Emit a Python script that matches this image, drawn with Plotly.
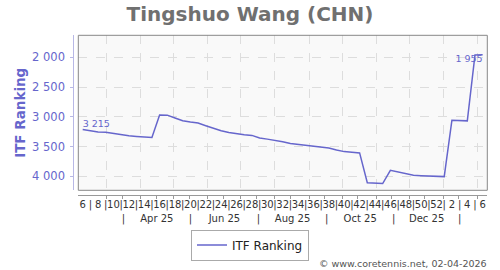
import plotly.graph_objects as go
import pandas as pd

# ---- data ----
week_numbers = list(range(6, 53)) + list(range(1, 7))  # ISO weeks 2025-W06 .. 2026-W06
ranking = [3215, 3240, 3256, 3260, 3283, 3305, 3320, 3330, 3337, 3346,
           2968, 2972, 3020, 3066, 3088, 3105, 3150, 3195, 3235, 3263,
           3285, 3300, 3312, 3355, 3375, 3393, 3420, 3447, 3462, 3478,
           3495, 3510, 3525, 3558, 3585, 3595, 3607, 4108, 4118, 4122,
           3900, 3925, 3945, 3982, 3989, 3995, 4000, 4005, 3058, 3062,
           3068, 1960, 1955]
month_labels = ["Apr 25", "Jun 25", "Aug 25", "Oct 25", "Dec 25"]
month_starts = pd.date_range("2025-03-01", "2026-02-01", freq="MS")
band_edges = pd.to_datetime(["2025-03-16", "2025-05-16", "2025-07-17",
                             "2025-09-17", "2025-11-17", "2026-01-16"])
y_ticks = [2000, 2500, 3000, 3500, 4000]
series_name = "ITF Ranking"
title_text = "Tingshuo Wang (CHN)"
credit_text = "© www.coretennis.net, 02-04-2026"

# ---- derived ----
idx = list(range(len(ranking)))
base = pd.Timestamp("2025-02-07")
to_idx = lambda d: (d - base).days / 7.0
grid_pos = [to_idx(d) for d in month_starts]
mid_pos = [to_idx(d + pd.Timedelta(days=14)) for d in month_starts]
edge_pos = [to_idx(d) for d in band_edges]
label_pos = [(edge_pos[k] + edge_pos[k + 1]) / 2 for k in range(len(month_labels))]

week_vals = idx
week_text = [str(w) if k % 2 == 0 else "|" for k, w in enumerate(week_numbers)]

m_pairs = sorted([(p, "|") for p in edge_pos] + list(zip(label_pos, month_labels)))
m_vals = [p for p, _ in m_pairs]
m_text = [t for _, t in m_pairs]

fmt = lambda v: f"{v:,}".replace(",", " ")
texts = [""] * len(ranking)
texts[0] = fmt(ranking[0])
texts[-1] = fmt(ranking[-1])
tpos = ["top center"] * len(ranking)
tpos[0] = "top right"
tpos[-1] = "bottom left"

W, H = 500, 270
ML, MR, MT, MB = 50, 12, 35, 35
PW = W - ML - MR
PH = H - MT - MB
px_x = lambda x: (x - ML) / PW
px_y = lambda y: (H - MB - y) / PH

XR = [-0.57, 52.6]
LINE = "#6666cc"
FONT = "DejaVu Sans"

fig = go.Figure()
fig.add_trace(go.Scatter(
    x=idx, y=ranking, mode="lines+text", name=series_name,
    line=dict(color=LINE, width=1.5),
    text=texts, textposition=tpos,
    textfont=dict(color=LINE, size=9.5, family=FONT),
    cliponaxis=False, hoverinfo="skip",
    xaxis="x", yaxis="y",
))
# dummy traces to activate the extra axes
for ax in ["x2", "x3", "x4"]:
    fig.add_trace(go.Scatter(x=[None], y=[None], xaxis=ax, yaxis="y",
                             showlegend=False, hoverinfo="skip"))

dom = [px_x(78.3), px_x(487.3)]
fig.update_layout(
    width=W, height=H,
    margin=dict(l=ML, r=MR, t=MT, b=MB, autoexpand=False),
    paper_bgcolor="white", plot_bgcolor="#f9f9f9",
    separators=". ",
    font=dict(family=FONT, color="#333333"),
    title=dict(text=title_text, x=0.5, xref="container", xanchor="center",
               y=1 - 14 / H, yref="container", yanchor="middle",
               font=dict(size=20, color="#707070", family=FONT, weight="bold")),
    xaxis=dict(domain=dom, range=XR, anchor="y", showgrid=False,
               showticklabels=False, ticks="", zeroline=False, showline=False),
    xaxis2=dict(overlaying="x", range=XR, anchor="free", position=px_y(195),
                showline=True, linecolor="#999999", linewidth=1,
                tickmode="array", tickvals=week_vals, ticktext=week_text,
                ticks="", showgrid=False, zeroline=False,
                tickfont=dict(size=10, color="#333333", family=FONT),
                tickangle=0, automargin=False,
                minor=dict(tickmode="array", tickvals=grid_pos + mid_pos,
                           ticks="outside", ticklen=3, tickcolor="#999999",
                           showgrid=False)),
    xaxis3=dict(overlaying="x", range=XR, anchor="y", showgrid=True,
                gridcolor="#dddddd", griddash="dash", gridwidth=1,
                tickmode="array", tickvals=grid_pos, showticklabels=False,
                ticks="", zeroline=False, showline=False, automargin=False),
    xaxis4=dict(overlaying="x", range=XR, anchor="free", position=px_y(211),
                showline=False, showgrid=False, zeroline=False, ticks="",
                tickmode="array", tickvals=m_vals, ticktext=m_text, tickangle=0,
                automargin=False,
                tickfont=dict(size=10, color="#333333", family=FONT)),
    yaxis=dict(domain=[px_y(190.3), px_y(35.3)], range=[4235, 1630],
               anchor="free", position=px_x(73.3), automargin=False,
               showline=True, linecolor="#b8b8e6", linewidth=1,
               tickmode="array", tickvals=y_ticks, tickformat=",d",
               ticks="outside", ticklen=3, tickcolor="#b8b8e6",
               ticklabelstandoff=3,
               tickfont=dict(size=11.5, color=LINE, family=FONT),
               showgrid=True, gridcolor="#dddddd", griddash="dash", gridwidth=1,
               zeroline=False,
               title=dict(text=series_name, standoff=2,
                          font=dict(size=13.5, color=LINE, family=FONT,
                                    weight="bold"))),
    legend=dict(orientation="h", xref="container", x=0.5, xanchor="center",
                yref="container", y=1 - 245 / H, yanchor="middle",
                bordercolor="#aaaaaa", borderwidth=1, bgcolor="white",
                itemwidth=30, font=dict(size=12, color="#222222", family=FONT)),
    showlegend=True,
    shapes=[dict(type="rect", xref="x domain", yref="y domain",
                 x0=0, x1=1, y0=0, y1=1,
                 line=dict(color="#888888", width=1), fillcolor="rgba(0,0,0,0)",
                 layer="above")],
    annotations=[dict(text=credit_text, xref="paper", yref="paper",
                      x=px_x(489), y=px_y(263), xanchor="right", yanchor="middle",
                      showarrow=False,
                      font=dict(size=9.5, color="#555555", family=FONT))],
)

fig.write_html("out.html")
